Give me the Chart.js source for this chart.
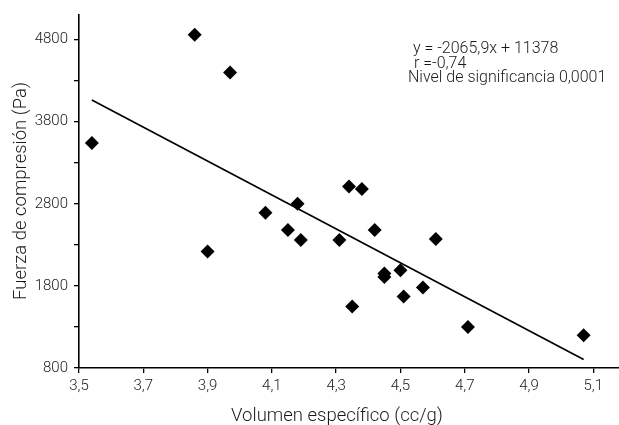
<!DOCTYPE html>
<html>
<head>
<meta charset="utf-8">
<script src="https://cdn.jsdelivr.net/npm/chart.js@4.4.0/dist/chart.umd.min.js"></script>
<style>
  body { margin: 0; background: #fff; }
  canvas { display: block; }
</style>
</head>
<body>
<canvas id="chartOne" width="619" height="425"></canvas>
<script>
// volumen especifico (cc/g) vs fuerza de compresion (Pa)
const volumen = [3.54, 3.86, 3.97, 3.90, 4.08, 4.18, 4.15, 4.19, 4.31, 4.34, 4.38, 4.42, 4.35, 4.45, 4.45, 4.50, 4.51, 4.57, 4.61, 4.71, 5.07];
const fuerza  = [3540, 4860, 4400, 2220, 2690, 2800, 2480, 2360, 2360, 3010, 2980, 2480, 1550, 1950, 1910, 1990, 1670, 1780, 2370, 1300, 1200];

// recta de regresion y = -2065,9x + 11378
const pendiente = -2065.9;
const intercepto = 11378;

const xTicks = [3.5, 3.7, 3.9, 4.1, 4.3, 4.5, 4.7, 4.9, 5.1];
const yTicks = [800, 1300, 1800, 2300, 2800, 3300, 3800, 4300, 4800];

const textos = ['y = -2065,9x + 11378', ' r =-0,74', 'Nivel de significancia 0,0001'];

const FONT = 'Roboto, "Liberation Sans", sans-serif';
const INK = '#1a1a1a';

const puntos = volumen.map((v, i) => ({x: v, y: fuerza[i]}));
const xMin = Math.min(...volumen), xMax = Math.max(...volumen);
const recta = [
    {x: xMin, y: pendiente * xMin + intercepto},
    {x: xMax, y: pendiente * xMax + intercepto}
];

// axis titles and the regression note
const textPlugin = {
    id: 'textPlugin',
    afterDraw(chart) {
        const ctx = chart.ctx;
        ctx.save();
        ctx.fillStyle = INK;
        ctx.font = '300 18.5px ' + FONT;
        ctx.textAlign = 'center';
        ctx.textBaseline = 'alphabetic';
        ctx.fillText('Volumen específico (cc/g)', 337, 421);

        ctx.translate(26, 191);
        ctx.rotate(-Math.PI / 2);
        ctx.fillText('Fuerza de compresión (Pa)', 0, 0);
        ctx.restore();

        ctx.save();
        ctx.fillStyle = INK;
        ctx.font = '300 16px ' + FONT;
        ctx.textAlign = 'left';
        ctx.fillText(textos[0], 413, 53);
        ctx.fillText(textos[1], 410, 67.5);
        ctx.fillText(textos[2], 408, 82);
        ctx.restore();
    }
};

const ctx = document.getElementById('chartOne').getContext('2d');

new Chart(ctx, {
    type: 'scatter',
    data: {
        datasets: [{
            label: 'Fuerza',
            data: puntos,
            pointStyle: 'rectRot',
            pointRadius: 7,
            pointHoverRadius: 7,
            backgroundColor: '#000',
            borderColor: '#000',
            borderWidth: 0
        }, {
            type: 'line',
            label: 'Regresión',
            data: recta,
            borderColor: '#000',
            borderWidth: 1.7,
            pointRadius: 0,
            fill: false
        }]
    },
    options: {
        responsive: false,
        animation: false,
        devicePixelRatio: 1,
        layout: { autoPadding: false, padding: { top: 13, right: 0, left: 0, bottom: 0 } },
        plugins: {
            legend: { display: false },
            tooltip: { enabled: false }
        },
        scales: {
            x: {
                type: 'linear',
                min: 3.5,
                max: 5.18,
                afterBuildTicks: (scale) => { scale.ticks = xTicks.map(v => ({value: v})); },
                afterFit: (scale) => { scale.height = 57; },
                border: { display: true, color: '#000', width: 1.6 },
                grid: { drawOnChartArea: false, drawTicks: true, tickLength: 5, color: '#000', lineWidth: 1.3 },
                ticks: {
                    color: INK,
                    font: { family: FONT, size: 15, weight: 300 },
                    padding: 4,
                    maxRotation: 0,
                    callback: (v) => v.toFixed(1).replace('.', ',')
                }
            },
            y: {
                min: 800,
                max: 5100,
                afterBuildTicks: (scale) => { scale.ticks = yTicks.map(v => ({value: v})); },
                afterFit: (scale) => { scale.width = 79; },
                border: { display: true, color: '#000', width: 1.6 },
                grid: { drawOnChartArea: false, drawTicks: true, tickLength: 5, color: '#000', lineWidth: 1.3 },
                ticks: {
                    color: INK,
                    font: { family: FONT, size: 15, weight: 300 },
                    padding: 6,
                    callback: (v) => ((v - 800) % 1000 === 0 ? String(v) : '')
                }
            }
        }
    },
    plugins: [textPlugin]
});
</script>
</body>
</html>
